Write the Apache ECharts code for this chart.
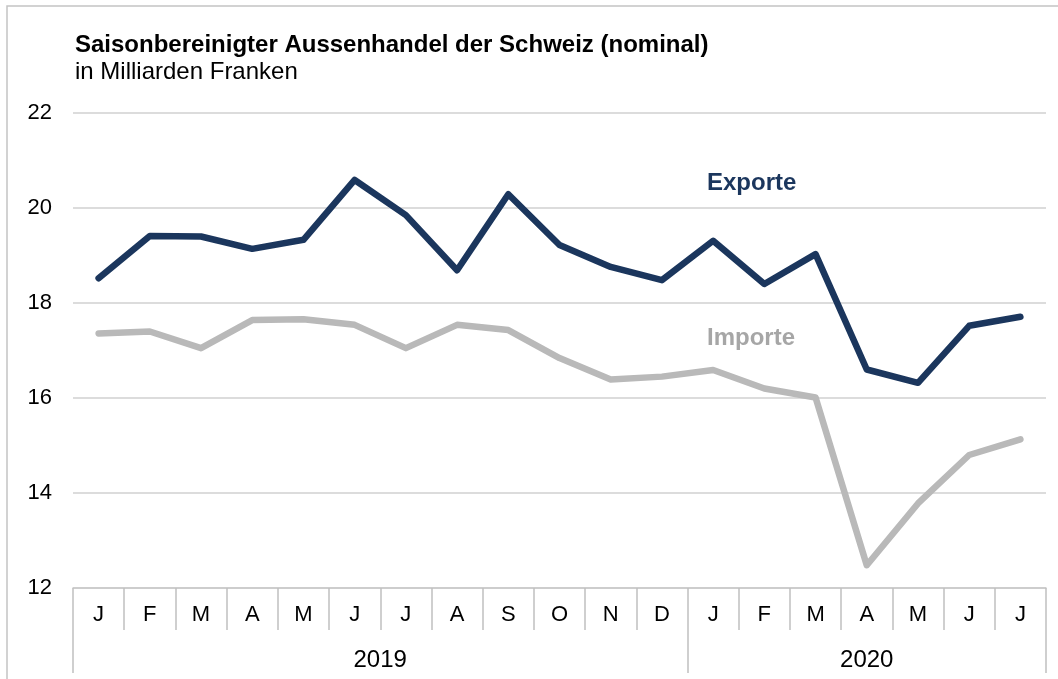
<!DOCTYPE html>
<html>
<head>
<meta charset="utf-8">
<script src="https://cdn.jsdelivr.net/npm/echarts@6/dist/echarts.min.js"></script>
<style>
html,body{margin:0;padding:0;background:#fff;}
#chart{width:1058px;height:679px;}
</style>
</head>
<body>
<div id="chart"></div>
<script>
var months = ['J','F','M','A','M','J','J','A','S','O','N','D','J','F','M','A','M','J','J'];
var yearLabels = ['', '', '', '', '', '2019', '', '', '', '', '', '', '', '', '', '2020', '', '', ''];
var exporte = [18.52, 19.41, 19.40, 19.14, 19.33, 20.59, 19.85, 18.69, 20.29, 19.22, 18.76, 18.48, 19.31, 18.40, 19.03, 16.60, 16.32, 17.52, 17.71];
var importe = [17.36, 17.40, 17.05, 17.64, 17.66, 17.54, 17.05, 17.54, 17.43, 16.84, 16.39, 16.45, 16.59, 16.20, 16.01, 12.48, 13.78, 14.80, 15.13];
var yTicks = { min: 12, max: 22, interval: 2 };

var FONT = 'Liberation Sans, Arial, sans-serif';
var chart = echarts.init(document.getElementById('chart'), null, { renderer: 'canvas' });
chart.setOption({
  animation: false,
  backgroundColor: '#fff',
  title: [{
    text: 'Saisonbereinigter Aussenhandel der Schweiz (nominal)',
    subtext: 'in Milliarden Franken',
    left: 70, top: 28,
    itemGap: 3,
    textStyle: { fontFamily: FONT, fontWeight: 'bold', fontSize: 24, lineHeight: 24, color: '#000' },
    subtextStyle: { fontFamily: FONT, fontSize: 24, lineHeight: 24, color: '#000' }
  }],
  graphic: [
    { type: 'rect', shape: { x: 7, y: 6, width: 1200, height: 800 }, style: { fill: 'none', stroke: '#c4c4c4', lineWidth: 1.5 }, silent: true },
    { type: 'text', left: 707, top: 171, style: { text: 'Exporte', fontFamily: FONT, fontWeight: 'bold', fontSize: 24, fill: '#1b365d' } },
    { type: 'text', left: 707, top: 326, style: { text: 'Importe', fontFamily: FONT, fontWeight: 'bold', fontSize: 24, fill: '#a6a6a6' } }
  ],
  grid: { left: 73, right: 12, top: 113, bottom: 91 },
  xAxis: [{
    type: 'category',
    data: months,
    boundaryGap: true,
    axisLine: { show: true, lineStyle: { color: '#c8c8c8', width: 1.5 } },
    axisTick: { show: true, interval: 0, length: 42, lineStyle: { color: '#c0c0c0', width: 1.5 } },
    axisLabel: { interval: 0, margin: 16, fontFamily: FONT, fontSize: 22, color: '#000' },
    splitLine: { show: false }
  }, {
    type: 'category',
    data: yearLabels,
    position: 'bottom',
    boundaryGap: true,
    axisLine: { show: false },
    axisTick: {
      show: true, length: 85,
      interval: function (i) { return i === 0 || i === 12; },
      lineStyle: { color: '#c0c0c0', width: 1.5 }
    },
    axisLabel: {
      interval: 0, margin: 60, fontFamily: FONT, fontSize: 24, color: '#000',
      formatter: function (v, i) { return i === 5 ? '{s|' + v + '}' : v; },
      rich: { s: { padding: [0, 0, 0, 51], fontFamily: FONT, fontSize: 24, color: '#000' } }
    },
    splitLine: { show: false }
  }],
  yAxis: {
    type: 'value',
    min: yTicks.min, max: yTicks.max, interval: yTicks.interval,
    axisLine: { show: false },
    axisTick: { show: false },
    axisLabel: { margin: 21, fontFamily: FONT, fontSize: 22, color: '#000' },
    splitLine: { show: true, lineStyle: { color: '#d0d0d0', width: 1.5 } }
  },
  series: [{
    name: 'Exporte', type: 'line', data: exporte, symbol: 'none',
    lineStyle: { color: '#1b365d', width: 6.5, cap: 'round', join: 'round' }, z: 3
  }, {
    name: 'Importe', type: 'line', data: importe, symbol: 'none',
    lineStyle: { color: '#b9b9b9', width: 6.5, cap: 'round', join: 'round' }, z: 2
  }]
});
</script>
</body>
</html>
